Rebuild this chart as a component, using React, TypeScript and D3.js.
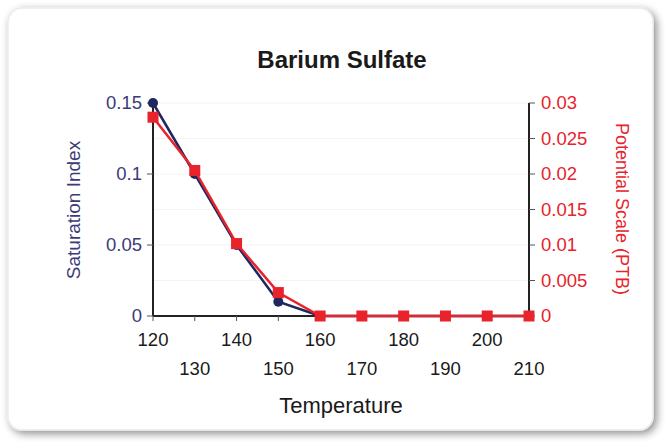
import React from "react";
import * as d3 from "d3";

const temperatures = [120, 130, 140, 150, 160, 170, 180, 190, 200, 210];
const saturationIndex = [0.15, 0.1, 0.05, 0.01, 0, 0, 0, 0, 0, 0];
const potentialScale = [0.028, 0.0205, 0.0102, 0.0033, 0, 0, 0, 0, 0, 0];
const leftTicks = [0, 0.05, 0.1, 0.15];
const leftTickLabels = ["0", "0.05", "0.1", "0.15"];
const rightTicks = [0, 0.005, 0.01, 0.015, 0.02, 0.025, 0.03];
const rightTickLabels = ["0", "0.005", "0.01", "0.015", "0.02", "0.025", "0.03"];
const xTicks = [120, 130, 140, 150, 160, 170, 180, 190, 200, 210];

const W = 669, H = 442;
const FONT = "'Liberation Sans', Arial, sans-serif";
const BLUE = "#1f2660";
const BLUE_TEXT = "#3b3b78";
const RED = "#e8232b";

export default function App() {
  const x = d3.scaleLinear().domain([120, 210]).range([153, 529]);
  const yL = d3.scaleLinear().domain([0, 0.15]).range([316, 103]);
  const yR = d3.scaleLinear().domain([0, 0.03]).range([316, 103]);

  const lineL = d3.line<number>().x((_, i) => x(temperatures[i])).y((d) => yL(d));
  const lineR = d3.line<number>().x((_, i) => x(temperatures[i])).y((d) => yR(d));

  return (
    <svg width={W} height={H} style={{ position: "absolute", left: 0, top: 0 }}>
      <defs>
        <filter id="sh" x="-5%" y="-5%" width="110%" height="110%">
          <feGaussianBlur in="SourceAlpha" stdDeviation="4" />
          <feOffset dx="3" dy="3" />
          <feComponentTransfer><feFuncA type="linear" slope="0.45" /></feComponentTransfer>
          <feMerge><feMergeNode /><feMergeNode in="SourceGraphic" /></feMerge>
        </filter>
      </defs>
      <rect x={0} y={0} width={W} height={H} fill="#ffffff" />
      <rect x={8} y={8} width={645} height={422} rx={14} fill="#ffffff" stroke="#ececec" strokeWidth={1.5} filter="url(#sh)" />

      {rightTicks.slice(1).map((t) => (
        <line key={"g" + t} x1={153} x2={529} y1={yR(t)} y2={yR(t)} stroke="#f3f3f3" strokeWidth={1} />
      ))}

      <text x={342} y={68} textAnchor="middle" fontFamily={FONT} fontWeight="bold" fontSize={24} fill="#1a1a1a">Barium Sulfate</text>

      <line x1={153} x2={153} y1={103} y2={316} stroke="#222" strokeWidth={2} />
      <line x1={529} x2={529} y1={103} y2={316} stroke="#222" strokeWidth={2} />
      <line x1={153} x2={529} y1={316} y2={316} stroke="#222" strokeWidth={2} />

      {leftTicks.map((t, i) => (
        <g key={"l" + t}>
          <line x1={147} x2={153} y1={yL(t)} y2={yL(t)} stroke="#555" strokeWidth={1} />
          <text x={142} y={yL(t)} dy="0.35em" textAnchor="end" fontFamily={FONT} fontSize={18.5} fill={BLUE_TEXT}>{leftTickLabels[i]}</text>
        </g>
      ))}
      {rightTicks.map((t, i) => (
        <g key={"r" + t}>
          <line x1={529} x2={535} y1={yR(t)} y2={yR(t)} stroke="#555" strokeWidth={1} />
          <text x={541} y={yR(t)} dy="0.35em" textAnchor="start" fontFamily={FONT} fontSize={18.5} fill={RED}>{rightTickLabels[i]}</text>
        </g>
      ))}
      {xTicks.map((t, i) => (
        <g key={"x" + t}>
          <line x1={x(t)} x2={x(t)} y1={316} y2={321} stroke="#555" strokeWidth={1} />
          <text x={x(t)} y={i % 2 === 0 ? 346 : 375} textAnchor="middle" fontFamily={FONT} fontSize={18.5} fill="#1a1a1a">{t}</text>
        </g>
      ))}

      <text x={341} y={413} textAnchor="middle" fontFamily={FONT} fontSize={22} fill="#1a1a1a">Temperature</text>
      <text transform={`translate(80,210) rotate(-90)`} textAnchor="middle" fontFamily={FONT} fontSize={19} fill={BLUE_TEXT}>Saturation Index</text>
      <text transform={`translate(616,209) rotate(90)`} textAnchor="middle" fontFamily={FONT} fontSize={18} fill={RED}>Potential Scale (PTB)</text>

      <path d={lineL(saturationIndex) || ""} fill="none" stroke={BLUE} strokeWidth={2.5} />
      {saturationIndex.map((v, i) => (
        <circle key={"c" + i} cx={x(temperatures[i])} cy={yL(v)} r={5} fill={BLUE} />
      ))}
      <path d={lineR(potentialScale) || ""} fill="none" stroke={RED} strokeWidth={2.5} />
      {potentialScale.map((v, i) => (
        <rect key={"s" + i} x={x(temperatures[i]) - 5.5} y={yR(v) - 5.5} width={11} height={11} fill={RED} />
      ))}
    </svg>
  );
}
